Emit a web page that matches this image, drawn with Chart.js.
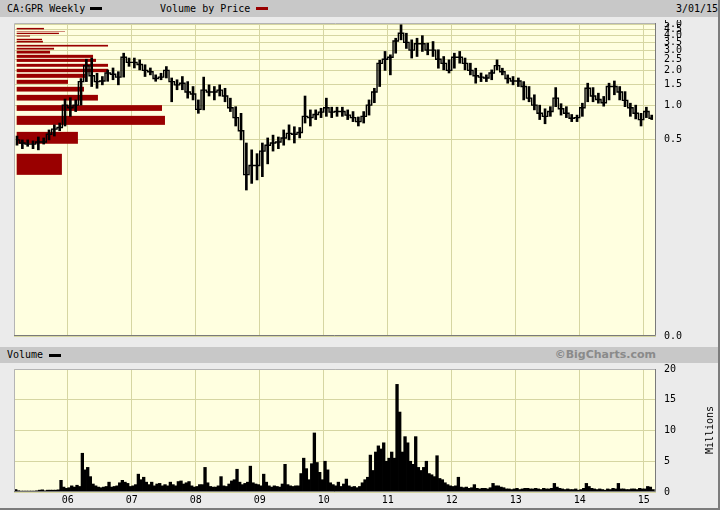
<!DOCTYPE html>
<html>
<head>
<meta charset="utf-8">
<script src="https://cdn.jsdelivr.net/npm/chart.js@4/dist/chart.umd.min.js"></script>
<style>
  body { margin: 0; }
  #page { position: relative; width: 718px; height: 508px; background: #ebebeb;
          border-right: 2px solid #7c7c7c; border-bottom: 2px solid #7c7c7c;
          font: 10px "DejaVu Sans Mono", monospace; color: #000; overflow: hidden; }
  .band { position: absolute; left: 0; width: 718px; background: #c8c8c8; }
  .txt { position: absolute; white-space: pre; }
  .swatch { position: absolute; width: 12px; height: 3px; }
  canvas { position: absolute; left: 0; }
</style>
</head>
<body>
<div id="page">
  <div class="band" style="top:0;height:17px"></div>
  <div class="txt" style="left:7px;top:2px;line-height:13px">CA:GPR Weekly</div>
  <div class="swatch" style="left:90px;top:7px;background:#000"></div>
  <div class="txt" style="left:160px;top:2px;line-height:13px">Volume by Price</div>
  <div class="swatch" style="left:256px;top:7px;background:#990000"></div>
  <div class="txt" style="left:676px;top:2px;line-height:13px">3/01/15</div>

  <canvas id="price" width="720" height="325" style="top:20px"></canvas>

  <div class="band" style="top:347px;height:16px"></div>
  <div class="txt" style="left:7px;top:348px;line-height:13px">Volume</div>
  <div class="swatch" style="left:49px;top:354px;background:#000"></div>
  <div class="txt" style="right:62px;top:348px;line-height:13px;font:bold 11px 'DejaVu Sans';color:#8a8a8a">©BigCharts.com</div>

  <canvas id="vol" width="720" height="145" style="top:363px"></canvas>
  <div class="txt" style="left:680px;top:424px;width:60px;text-align:center;line-height:12px;transform:rotate(-90deg)">Millions</div>
</div>
<script>
const startYear = 2005, startMonth = 2;

const priceLow = [
  0.45, 0.42, 0.44, 0.42, 0.41, 0.46, 0.50, 0.54, 0.60, 0.66,
  0.80, 0.88, 1.00, 1.60, 1.45, 1.40, 1.50, 1.61, 1.66, 1.50, 1.75, 2.17,
  2.10, 2.02, 1.77, 1.83, 1.61, 1.66, 1.72, 1.07, 1.36, 1.36, 1.15, 1.11,
  0.85, 0.91, 1.20, 1.11, 1.20, 1.07, 0.88, 0.66, 0.50, 0.184, 0.21, 0.225,
  0.24, 0.31, 0.40, 0.42, 0.45, 0.50, 0.47, 0.52, 0.70, 0.66, 0.75, 0.78,
  0.80, 0.78, 0.80, 0.80, 0.75, 0.72, 0.66, 0.70, 0.82, 1.05, 1.45, 2.00,
  1.83, 2.82, 3.68, 3.10, 2.56, 2.64, 2.92, 2.73, 2.64, 2.09, 2.02, 1.90,
  2.09, 2.31, 2.02, 1.83, 1.55, 1.60, 1.60, 1.66, 2.02, 1.83, 1.55, 1.50,
  1.45, 1.11, 1.07, 0.91, 0.75, 0.69, 0.80, 0.97, 0.82, 0.78, 0.72, 0.72,
  0.80, 1.07, 1.07, 1.04, 0.98, 1.11, 1.23, 1.11, 0.97, 0.80, 0.76, 0.66,
  0.78, 0.75
];
const priceHigh = [
  0.54, 0.50, 0.50, 0.49, 0.53, 0.52, 0.61, 0.675, 0.70, 1.13,
  1.16, 1.11, 1.70, 2.50, 2.56, 1.89, 1.77, 2.02, 2.10, 1.95, 2.82, 2.56,
  2.56, 2.47, 2.24, 2.10, 1.83, 1.89, 2.16, 1.72, 1.66, 1.77, 1.60, 1.45,
  1.11, 1.75, 1.50, 1.45, 1.50, 1.40, 1.15, 0.97, 0.85, 0.47, 0.41, 0.38,
  0.47, 0.52, 0.55, 0.53, 0.61, 0.675, 0.65, 0.64, 1.20, 0.91, 0.91, 0.94,
  1.15, 0.96, 0.96, 0.96, 0.91, 0.88, 0.79, 0.88, 1.11, 1.40, 2.45, 2.92,
  2.73, 3.80, 4.97, 4.20, 3.68, 3.80, 4.00, 3.45, 3.56, 3.02, 2.64, 2.47,
  2.82, 2.92, 2.56, 2.31, 2.09, 1.90, 1.83, 2.02, 2.47, 2.09, 1.83, 1.77,
  1.72, 1.60, 1.45, 1.23, 1.00, 0.93, 0.97, 1.42, 1.03, 0.97, 0.83, 0.82,
  1.04, 1.55, 1.42, 1.27, 1.19, 1.55, 1.62, 1.45, 1.31, 1.04, 1.00, 0.85,
  0.96, 0.82
];
const priceClose = [
  0.50, 0.47, 0.46, 0.46, 0.48, 0.48, 0.56, 0.62, 0.64, 1.00,
  0.95, 1.00, 1.60, 2.20, 1.80, 1.60, 1.62, 1.90, 1.85, 1.75, 2.60, 2.35,
  2.35, 2.25, 2.00, 1.95, 1.70, 1.75, 2.00, 1.60, 1.50, 1.55, 1.30, 1.25,
  0.92, 1.35, 1.30, 1.30, 1.35, 1.20, 0.95, 0.78, 0.60, 0.25, 0.30, 0.30,
  0.40, 0.45, 0.47, 0.48, 0.52, 0.57, 0.56, 0.58, 0.80, 0.78, 0.83, 0.87,
  0.95, 0.87, 0.88, 0.88, 0.82, 0.78, 0.72, 0.80, 1.00, 1.30, 2.30, 2.50,
  2.60, 3.60, 4.20, 3.50, 3.00, 3.40, 3.40, 3.00, 3.00, 2.50, 2.30, 2.00,
  2.60, 2.60, 2.30, 2.00, 1.80, 1.75, 1.72, 1.90, 2.20, 1.95, 1.70, 1.62,
  1.62, 1.45, 1.15, 1.00, 0.85, 0.80, 0.88, 1.15, 0.93, 0.85, 0.77, 0.78,
  0.95, 1.40, 1.20, 1.12, 1.05, 1.45, 1.45, 1.30, 1.10, 0.95, 0.85, 0.75,
  0.88, 0.77
];

// volume in millions, two readings per month
const volume = [
  0.4,0.2, 0.15,0.15, 0.15,0.15, 0.15,0.15, 0.2,0.3, 0.35,0.2, 0.3,0.3, 0.3,0.3, 0.35,1.9, 0.8,0.6,
  0.7,1.0, 0.8,1.1, 0.9,6.3, 3.6,4.0, 2.5,1.3, 1.0,0.8, 0.7,0.8, 0.9,1.6, 0.8,0.9, 1.0,1.5, 1.9,1.6, 1.4,0.9,
  1.0,1.2, 2.9,2.0, 2.4,1.6, 1.2,1.6, 1.0,1.3, 1.4,1.0, 1.2,1.0, 1.6,1.2, 1.0,1.7, 1.8,1.3, 1.5,1.7, 1.0,0.8,
  0.9,1.2, 1.2,4.0, 1.5,0.9, 0.8,0.8, 1.0,2.5, 1.0,0.9, 1.3,1.8, 2.0,3.7, 1.6,1.2, 1.4,1.6, 4.2,1.5, 1.3,1.2,
  1.0,2.9, 1.6,1.0, 0.8,1.0, 0.9,0.8, 1.3,4.5, 1.2,1.0, 0.9,1.0, 1.0,3.0, 5.5,3.8, 2.0,4.6, 9.6,4.8, 3.2,2.0,
  5.0,3.6, 1.5,1.2, 1.0,1.6, 0.9,1.3, 2.1,1.0, 0.8,0.9, 0.7,0.9, 1.5,2.0, 2.4,6.0, 3.5,6.5, 7.5,7.0, 8.0,5.0,
  5.5,6.5, 5.5,17.5, 13.0,6.5, 9.0,8.0, 5.0,4.5, 9.0,4.0, 3.5,4.0, 5.0,3.0, 2.8,2.5, 5.9,2.2, 2.0,1.5, 1.2,1.0,
  0.9,1.0, 2.4,0.8, 0.7,0.8, 0.6,0.7, 1.2,0.6, 0.5,0.6, 0.6,0.5, 0.7,1.4, 1.0,1.0, 0.8,0.7, 0.5,0.5, 0.4,0.5,
  0.6,0.4, 0.5,0.6, 0.6,0.5, 0.5,0.6, 0.5,0.4, 0.6,0.5, 0.5,0.6, 1.4,0.8, 0.6,0.5, 0.4,0.5, 0.4,0.4, 0.5,0.3,
  0.4,0.6, 1.4,0.9, 0.6,0.5, 0.4,0.5, 0.4,0.3, 0.5,0.4, 0.6,0.5, 1.4,0.5, 0.5,0.4, 0.4,0.5, 0.5,0.4, 0.6,0.5,
  0.5,0.9, 0.8,0.4
];

// volume by price: price bands and relative volume (largest = 100)
const vbpLow  = [4.53, 4.31, 4.13, 3.93, 3.66, 3.49, 3.22, 3.03, 2.80, 2.57, 2.37,
                 2.15, 1.93, 1.725, 1.53, 1.312, 1.096, 0.892, 0.675, 0.463, 0.249];
const vbpHigh = [4.67, 4.35, 4.24, 4.01, 3.76, 3.61, 3.33, 3.14, 2.96, 2.73, 2.52,
                 2.28, 2.065, 1.87, 1.658, 1.442, 1.228, 1.0, 0.808, 0.587, 0.379];
const vbpVolume = [18.4, 32.6, 28.5, 9.0, 17.1, 17.7, 61.6, 25.2, 22.5, 51.5, 53.5,
                   61.6, 61.6, 46.1, 34.6, 45.4, 54.8, 98.0, 100, 41.3, 30.5];

const yearTicks = [2006, 2007, 2008, 2009, 2010, 2011, 2012, 2013, 2014, 2015];
const yearLabels = ['06', '07', '08', '09', '10', '11', '12', '13', '14', '15'];
const priceTicks = [0.01, 0.5, 1.0, 1.5, 2.0, 2.5, 3.0, 3.5, 4.0, 4.5, 5.0];
const volumeTicks = [0, 5, 10, 15, 20];

const monthX = priceClose.map((_, i) => startYear + (startMonth + i + 0.5) / 12);
const halfX = volume.map((_, k) => startYear + startMonth / 12 + (k + 0.5) / 24);

const xMin = 2005.161, xMax = 2015.192;
const GRID = '#d6d6a2';

Chart.defaults.font.family = '"DejaVu Sans Mono", monospace';
Chart.defaults.font.size = 10;
Chart.defaults.color = '#000';

const panel = {
  id: 'panel',
  beforeDraw(chart) {
    const { ctx, chartArea: a } = chart;
    ctx.save();
    ctx.fillStyle = '#ffffe0';
    ctx.fillRect(a.left, a.top, a.right - a.left, a.bottom - a.top);
    ctx.restore();
  },
  afterDraw(chart) {
    const { ctx, chartArea: a } = chart;
    ctx.save();
    ctx.lineWidth = 1;
    ctx.strokeStyle = '#b4b4b4';
    ctx.beginPath();
    ctx.moveTo(a.left + 0.5, a.bottom);
    ctx.lineTo(a.left + 0.5, a.top + 0.5);
    ctx.lineTo(a.right, a.top + 0.5);
    ctx.stroke();
    ctx.strokeStyle = '#7a7a7a';
    ctx.beginPath();
    ctx.moveTo(a.right - 0.5, a.top);
    ctx.lineTo(a.right - 0.5, a.bottom - 0.5);
    ctx.lineTo(a.left, a.bottom - 0.5);
    ctx.stroke();
    ctx.restore();
  }
};

const vbp = {
  id: 'vbp',
  beforeDatasetsDraw(chart) {
    const { ctx, scales } = chart;
    const y = scales.y, xv = scales.xv;
    ctx.save();
    ctx.fillStyle = '#990000';
    vbpVolume.forEach((v, i) => {
      const top = y.getPixelForValue(vbpHigh[i]);
      const bottom = y.getPixelForValue(vbpLow[i]);
      const left = xv.getPixelForValue(0);
      const right = xv.getPixelForValue(v);
      ctx.fillRect(left, top, right - left, bottom - top);
    });
    ctx.restore();
  }
};

const noPad = s => { s.paddingTop = 0; s.paddingBottom = 0; s.paddingLeft = 0; s.paddingRight = 0; };

const xAxis = (showLabels) => ({
  type: 'linear',
  min: xMin,
  max: xMax,
  bounds: 'data',
  offset: false,
  grid: { color: GRID, drawTicks: false, offset: false },
  border: { display: false },
  afterBuildTicks: s => { s.ticks = yearTicks.map(v => ({ value: v })); },
  afterFit: s => { s.height = showLabels ? 16 : 0; noPad(s); },
  ticks: {
    display: showLabels,
    padding: 2,
    maxRotation: 0,
    autoSkip: false,
    callback: v => yearLabels[yearTicks.indexOf(v)]
  }
});

new Chart(document.getElementById('price'), {
  type: 'line',
  data: {
    datasets: [
      {
        type: 'bar',
        data: monthX.map((x, i) => ({ x, y: [priceLow[i], priceHigh[i]] })),
        backgroundColor: '#000',
        barThickness: 2
      },
      {
        type: 'line',
        data: monthX.map((x, i) => ({ x, y: priceClose[i] })),
        borderColor: '#000',
        borderWidth: 1.4,
        pointRadius: 0,
        stepped: 'middle'
      }
    ]
  },
  options: {
    responsive: false,
    animation: false,
    devicePixelRatio: 1,
    layout: { padding: { left: 14, top: 3, bottom: 9, right: 0 } },
    plugins: { legend: { display: false }, tooltip: { enabled: false } },
    scales: {
      x: xAxis(false),
      xv: { type: 'linear', axis: 'x', position: 'top', display: false, min: -1.8, max: 431.1 },
      y: {
        type: 'logarithmic',
        position: 'right',
        min: 0.01,
        max: 5.15,
        bounds: 'data',
        grid: { color: GRID, drawTicks: false },
        border: { display: false },
        afterBuildTicks: s => { s.ticks = priceTicks.map(v => ({ value: v })); },
        afterFit: s => { s.width = 64; noPad(s); },
        ticks: { padding: 8, callback: v => v < 0.1 ? '0.0' : v.toFixed(1) }
      }
    }
  },
  plugins: [panel, vbp]
});

new Chart(document.getElementById('vol'), {
  type: 'bar',
  data: {
    datasets: [{
      data: halfX.map((x, k) => ({ x, y: volume[k] })),
      backgroundColor: '#000',
      categoryPercentage: 1,
      barPercentage: 1
    }]
  },
  options: {
    responsive: false,
    animation: false,
    devicePixelRatio: 1,
    layout: { padding: { left: 14, top: 6, bottom: 0, right: 0 } },
    plugins: { legend: { display: false }, tooltip: { enabled: false } },
    scales: {
      x: xAxis(true),
      y: {
        position: 'right',
        min: 0,
        max: 20,
        bounds: 'data',
        grid: { color: GRID, drawTicks: false },
        border: { display: false },
        afterBuildTicks: s => { s.ticks = volumeTicks.map(v => ({ value: v })); },
        afterFit: s => { s.width = 64; noPad(s); },
        ticks: { padding: 8 }
      }
    }
  },
  plugins: [panel]
});
</script>
</body>
</html>
